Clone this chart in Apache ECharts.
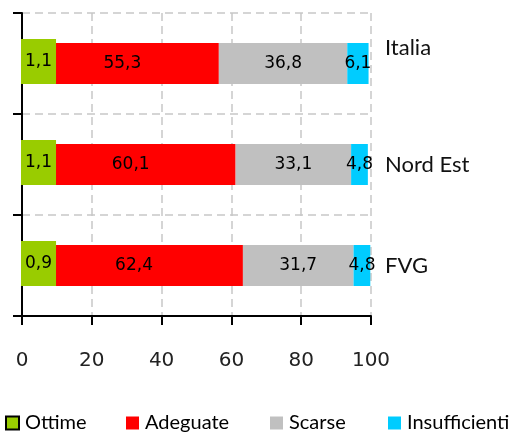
<!DOCTYPE html>
<html>
<head>
<meta charset="utf-8">
<script src="https://cdn.jsdelivr.net/npm/echarts@6/dist/echarts.min.js"></script>
<style>
  html, body { margin: 0; padding: 0; background: #fff; }
  #main { width: 511px; height: 432px; }
</style>
</head>
<body>
<div id="main"></div>
<script>
// dati
var categorie = ['Italia', 'Nord Est', 'FVG'];
var ottime = [1.1, 1.1, 0.9];
var adeguate = [55.3, 60.1, 62.4];
var scarse = [36.8, 33.1, 31.7];
var insufficienti = [6.1, 4.8, 4.8];
var tickValori = [0, 20, 40, 60, 80, 100];

var colori = ['#99CC00', '#FF0000', '#C0C0C0', '#00CCFF'];

// etichetta con la virgola decimale
function virgola(p) {
    return p.value.toFixed(1).replace('.', ',');
}

var etichetta = {
    show: true,
    position: 'inside',
    formatter: virgola,
    color: '#000',
    fontFamily: 'DejaVu Sans',
    fontSize: 17
};

function serie(nome, dati, label) {
    return {
        name: nome,
        type: 'bar',
        stack: 'tot',
        barWidth: 41,
        data: dati,
        label: label
    };
}

var chart = echarts.init(document.getElementById('main'));

var legendaStile = { fontFamily: 'Lato', fontSize: 20, color: '#000', padding: [0, 0, 0, 1] };
function legenda(nome, x, extra) {
    var d = { name: nome };
    if (extra) d.itemStyle = extra;
    return {
        data: [d],
        left: x,
        top: 413,
        padding: 0,
        itemWidth: 13,
        itemHeight: 13,
        icon: 'rect',
        selectedMode: false,
        textStyle: legendaStile
    };
}

var option = {
    color: colori,
    animation: false,
    grid: { left: 22, right: 140, top: 13, bottom: 116 },
    legend: [
        legenda('Ottime', 5, { borderColor: '#000', borderWidth: 2 }),
        legenda('Adeguate', 126),
        legenda('Scarse', 270),
        legenda('Insufficienti', 388)
    ],
    xAxis: {
        type: 'value',
        min: 0,
        max: 100,
        interval: 20,
        axisLine: { show: true, lineStyle: { color: '#000', width: 2 } },
        axisTick: { show: true, length: 9, lineStyle: { color: '#000', width: 2 } },
        axisLabel: {
            margin: 35,
            color: '#222',
            fontFamily: 'DejaVu Sans',
            fontSize: 20,
            formatter: function(v) { return tickValori.indexOf(v) >= 0 ? String(v) : ''; }
        },
        splitLine: { show: true, lineStyle: { color: '#C8C8C8', type: [8, 5], width: 1.5 } }
    },
    yAxis: [{
        type: 'category',
        data: categorie,
        inverse: true,
        position: 'left',
        axisLine: { show: true, lineStyle: { color: '#000', width: 2 } },
        axisTick: { show: true, length: 9, lineStyle: { color: '#000', width: 2 } },
        axisLabel: { show: false },
        splitLine: { show: true, lineStyle: { color: '#C8C8C8', type: [8, 5], width: 1.5 } }
    }, {
        type: 'category',
        data: categorie,
        inverse: true,
        position: 'right',
        axisLine: { show: false },
        axisTick: { show: false },
        splitLine: { show: false },
        axisLabel: {
            margin: 14,
            color: '#111',
            fontFamily: 'Lato',
            fontSize: 22,
            formatter: function(v) {
                // Italia sta più in alto nell'originale
                return v === 'Italia' ? '{su|' + v + '}' : v;
            },
            rich: {
                su: { fontFamily: 'Lato', fontSize: 22, color: '#111', padding: [0, 0, 32, 0] }
            }
        }
    }],
    series: [
        serie('Ottime', ottime, {
            show: true,
            position: 'insideLeft',
            distance: 0,
            offset: [-1, -2],
            formatter: virgola,
            color: '#000',
            fontFamily: 'DejaVu Sans',
            fontSize: 17,
            backgroundColor: '#99CC00',
            padding: [14, 4, 14, 4]
        }),
        serie('Adeguate', adeguate, etichetta),
        serie('Scarse', scarse, etichetta),
        serie('Insufficienti', insufficienti, etichetta)
    ]
};

chart.setOption(option);
</script>
</body>
</html>
